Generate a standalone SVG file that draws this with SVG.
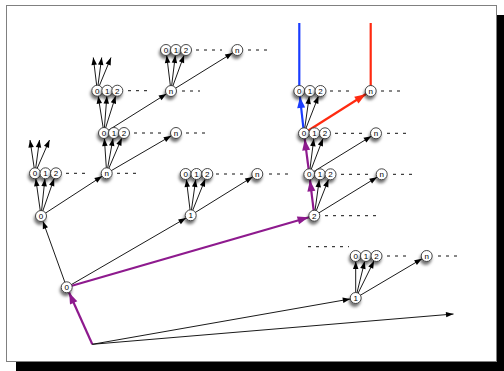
<svg xmlns="http://www.w3.org/2000/svg" width="504" height="371" viewBox="0 0 504 371">
  <defs>
    <style>
      .e { stroke: #000; stroke-width: 0.9; fill: none; }
      .ep { stroke: #8e1a8e; stroke-width: 2.2; fill: none; }
      .eb { stroke: #1a3cff; stroke-width: 2.2; fill: none; }
      .er { stroke: #ff2a10; stroke-width: 2.2; fill: none; }
      .dots { stroke: #111; stroke-width: 1; stroke-dasharray: 3 5; fill: none; }
      .node circle { fill: #fff; stroke: #333; stroke-width: 0.9; filter: url(#shadow); }
      .node text { font-family: "Liberation Sans", Arial, sans-serif; font-size: 8px; text-anchor: middle; fill: #000; }
    </style>
    <filter id="shadow" x="-80%" y="-80%" width="260%" height="260%">
      <feDropShadow dx="-1" dy="3" stdDeviation="1.6" flood-color="#000" flood-opacity="0.55"/>
    </filter>
    <!-- thin arrowhead ending at a node's rim -->
    <marker id="ah" markerUnits="userSpaceOnUse" markerWidth="20" markerHeight="8" refX="13" refY="2.75" orient="auto" overflow="visible">
      <path d="M0,0 L7.5,2.75 L0,5.5 z" fill="#000"/>
    </marker>
    <!-- thin arrowhead at a free end -->
    <marker id="ahf" markerUnits="userSpaceOnUse" markerWidth="10" markerHeight="8" refX="7.5" refY="2.75" orient="auto" overflow="visible">
      <path d="M0,0 L7.5,2.75 L0,5.5 z" fill="#000"/>
    </marker>
    <marker id="ahp" markerUnits="userSpaceOnUse" markerWidth="24" markerHeight="10" refX="17" refY="4" orient="auto" overflow="visible">
      <path d="M0,0 L11,4 L0,8 z" fill="#8e1a8e"/>
    </marker>
    <marker id="ahb" markerUnits="userSpaceOnUse" markerWidth="24" markerHeight="10" refX="17" refY="4" orient="auto" overflow="visible">
      <path d="M0,0 L11,4 L0,8 z" fill="#1a3cff"/>
    </marker>
    <marker id="ahr" markerUnits="userSpaceOnUse" markerWidth="24" markerHeight="10" refX="17" refY="4" orient="auto" overflow="visible">
      <path d="M0,0 L11,4 L0,8 z" fill="#ff2a10"/>
    </marker>
  </defs>

  <!-- page frame with hard drop shadow -->
  <rect x="16" y="15" width="490" height="357" fill="#000"/>
  <rect x="6.5" y="5.5" width="490" height="356" fill="#fff" stroke="#808080" stroke-width="1"/>

  <!-- ellipsis runs -->
  <g id="ellipses">
    <line class="dots" x1="66" y1="173.3" x2="90" y2="173.3"/>
    <line class="dots" x1="117" y1="173.3" x2="138" y2="173.3"/>
    <line class="dots" x1="134" y1="133" x2="162" y2="133"/>
    <line class="dots" x1="186" y1="133" x2="206" y2="133"/>
    <line class="dots" x1="128" y1="90.7" x2="150" y2="90.7"/>
    <line class="dots" x1="182" y1="91" x2="200" y2="91"/>
    <line class="dots" x1="196" y1="50" x2="222" y2="50"/>
    <line class="dots" x1="248" y1="50" x2="268" y2="50"/>
    <line class="dots" x1="216" y1="174" x2="246" y2="174"/>
    <line class="dots" x1="269" y1="174" x2="291" y2="174"/>
    <line class="dots" x1="325" y1="215.7" x2="381" y2="215.7"/>
    <line class="dots" x1="341" y1="174.3" x2="369" y2="174.3"/>
    <line class="dots" x1="393" y1="174.3" x2="412" y2="174.3"/>
    <line class="dots" x1="335" y1="133.3" x2="365" y2="133.3"/>
    <line class="dots" x1="387" y1="133.3" x2="407" y2="133.3"/>
    <line class="dots" x1="330" y1="91" x2="353" y2="91"/>
    <line class="dots" x1="381" y1="91" x2="401" y2="91"/>
    <line class="dots" x1="308" y1="246.7" x2="349" y2="246.7"/>
    <line class="dots" x1="387" y1="256" x2="409" y2="256"/>
    <line class="dots" x1="438" y1="256" x2="460" y2="256"/>
  </g>

  <!-- connectors -->
  <g id="connectors">
    <!-- from the origin point -->
    <line class="ep" x1="92.3" y1="344.3" x2="66.7" y2="287.3" marker-end="url(#ahp)"/>
    <line class="e" x1="92.3" y1="344.3" x2="355.7" y2="298" marker-end="url(#ah)"/>
    <line class="e" x1="92.3" y1="344.3" x2="453.5" y2="314" marker-end="url(#ahf)"/>
    <!-- from root 0 -->
    <line class="e" x1="66.7" y1="287.3" x2="41" y2="216" marker-end="url(#ah)"/>
    <line class="e" x1="66.7" y1="287.3" x2="190.7" y2="215.3" marker-end="url(#ah)"/>
    <line class="ep" x1="66.7" y1="287.3" x2="314.3" y2="215.7" marker-end="url(#ahp)"/>

    <!-- left subtree -->
    <line class="e" x1="41" y1="216" x2="35" y2="173.3" marker-end="url(#ah)"/>
    <line class="e" x1="41" y1="216" x2="45.5" y2="173.3" marker-end="url(#ah)"/>
    <line class="e" x1="41" y1="216" x2="56" y2="173.3" marker-end="url(#ah)"/>
    <line class="e" x1="41" y1="216" x2="106.7" y2="173.3" marker-end="url(#ah)"/>
    <line class="e" x1="35" y1="173.3" x2="30" y2="140" marker-end="url(#ahf)"/>
    <line class="e" x1="35" y1="173.3" x2="39.5" y2="140" marker-end="url(#ahf)"/>
    <line class="e" x1="35" y1="173.3" x2="49.5" y2="140" marker-end="url(#ahf)"/>

    <line class="e" x1="106.7" y1="173.3" x2="104" y2="133" marker-end="url(#ah)"/>
    <line class="e" x1="106.7" y1="173.3" x2="114" y2="133" marker-end="url(#ah)"/>
    <line class="e" x1="106.7" y1="173.3" x2="124" y2="133" marker-end="url(#ah)"/>
    <line class="e" x1="106.7" y1="173.3" x2="176" y2="133" marker-end="url(#ah)"/>

    <line class="e" x1="104" y1="133" x2="97.3" y2="90.7" marker-end="url(#ah)"/>
    <line class="e" x1="104" y1="133" x2="107.3" y2="90.7" marker-end="url(#ah)"/>
    <line class="e" x1="104" y1="133" x2="117.3" y2="90.7" marker-end="url(#ah)"/>
    <line class="e" x1="104" y1="133" x2="171" y2="91" marker-end="url(#ah)"/>
    <line class="e" x1="97.3" y1="90.7" x2="93.3" y2="57.5" marker-end="url(#ahf)"/>
    <line class="e" x1="97.3" y1="90.7" x2="101.7" y2="57.5" marker-end="url(#ahf)"/>
    <line class="e" x1="97.3" y1="90.7" x2="111" y2="57.5" marker-end="url(#ahf)"/>

    <line class="e" x1="171" y1="91" x2="166" y2="50" marker-end="url(#ah)"/>
    <line class="e" x1="171" y1="91" x2="176" y2="50" marker-end="url(#ah)"/>
    <line class="e" x1="171" y1="91" x2="186" y2="50" marker-end="url(#ah)"/>
    <line class="e" x1="171" y1="91" x2="237.3" y2="50" marker-end="url(#ah)"/>

    <!-- middle subtree -->
    <line class="e" x1="190.7" y1="215.3" x2="185.7" y2="174" marker-end="url(#ah)"/>
    <line class="e" x1="190.7" y1="215.3" x2="196.5" y2="174" marker-end="url(#ah)"/>
    <line class="e" x1="190.7" y1="215.3" x2="207.3" y2="174" marker-end="url(#ah)"/>
    <line class="e" x1="190.7" y1="215.3" x2="257.3" y2="174" marker-end="url(#ah)"/>

    <!-- right subtree -->
    <line class="ep" x1="314.3" y1="215.7" x2="309.3" y2="174.3" marker-end="url(#ahp)"/>
    <line class="e" x1="314.3" y1="215.7" x2="320" y2="174.3" marker-end="url(#ah)"/>
    <line class="e" x1="314.3" y1="215.7" x2="330.5" y2="174.3" marker-end="url(#ah)"/>
    <line class="e" x1="314.3" y1="215.7" x2="381.7" y2="174.3" marker-end="url(#ah)"/>

    <line class="ep" x1="309.3" y1="174.3" x2="304" y2="133.3" marker-end="url(#ahp)"/>
    <line class="e" x1="309.3" y1="174.3" x2="314.5" y2="133.3" marker-end="url(#ah)"/>
    <line class="e" x1="309.3" y1="174.3" x2="325" y2="133.3" marker-end="url(#ah)"/>
    <line class="e" x1="309.3" y1="174.3" x2="376" y2="133.3" marker-end="url(#ah)"/>

    <line class="eb" x1="304" y1="133.3" x2="299.3" y2="91" marker-end="url(#ahb)"/>
    <line class="e" x1="304" y1="133.3" x2="310" y2="91" marker-end="url(#ah)"/>
    <line class="e" x1="304" y1="133.3" x2="320.5" y2="91" marker-end="url(#ah)"/>
    <line class="er" x1="304" y1="133.3" x2="370.7" y2="91" marker-end="url(#ahr)"/>
    <line class="eb" x1="299.3" y1="91" x2="299.3" y2="23"/>
    <line class="er" x1="370.7" y1="91" x2="370.7" y2="23"/>

    <!-- bottom-right subtree -->
    <line class="e" x1="355.7" y1="298" x2="355.7" y2="256" marker-end="url(#ah)"/>
    <line class="e" x1="355.7" y1="298" x2="366" y2="256" marker-end="url(#ah)"/>
    <line class="e" x1="355.7" y1="298" x2="376.5" y2="256" marker-end="url(#ah)"/>
    <line class="e" x1="355.7" y1="298" x2="426.7" y2="256" marker-end="url(#ah)"/>
  </g>

  <!-- nodes -->
  <g id="root" class="node"><circle cx="66.7" cy="287.3" r="5.5"/><text x="66.7" y="290.2">0</text></g>

  <g id="a0" class="node"><circle cx="41" cy="216" r="5.5"/><text x="41" y="218.9">0</text></g>
  <g id="a0-0" class="node"><circle cx="35" cy="173.3" r="5.5"/><text x="35" y="176.2">0</text></g>
  <g id="a0-1" class="node"><circle cx="45.5" cy="173.3" r="5.5"/><text x="45.5" y="176.2">1</text></g>
  <g id="a0-2" class="node"><circle cx="56" cy="173.3" r="5.5"/><text x="56" y="176.2">2</text></g>
  <g id="a0-n" class="node"><circle cx="106.7" cy="173.3" r="5.5"/><text x="106.7" y="176.2">n</text></g>

  <g id="a1-0" class="node"><circle cx="104" cy="133" r="5.5"/><text x="104" y="135.9">0</text></g>
  <g id="a1-1" class="node"><circle cx="114" cy="133" r="5.5"/><text x="114" y="135.9">1</text></g>
  <g id="a1-2" class="node"><circle cx="124" cy="133" r="5.5"/><text x="124" y="135.9">2</text></g>
  <g id="a1-n" class="node"><circle cx="176" cy="133" r="5.5"/><text x="176" y="135.9">n</text></g>

  <g id="a2-0" class="node"><circle cx="97.3" cy="90.7" r="5.5"/><text x="97.3" y="93.6">0</text></g>
  <g id="a2-1" class="node"><circle cx="107.3" cy="90.7" r="5.5"/><text x="107.3" y="93.6">1</text></g>
  <g id="a2-2" class="node"><circle cx="117.3" cy="90.7" r="5.5"/><text x="117.3" y="93.6">2</text></g>
  <g id="a2-n" class="node"><circle cx="171" cy="91" r="5.5"/><text x="171" y="93.9">n</text></g>

  <g id="a3-0" class="node"><circle cx="166" cy="50" r="5.5"/><text x="166" y="52.9">0</text></g>
  <g id="a3-1" class="node"><circle cx="176" cy="50" r="5.5"/><text x="176" y="52.9">1</text></g>
  <g id="a3-2" class="node"><circle cx="186" cy="50" r="5.5"/><text x="186" y="52.9">2</text></g>
  <g id="a3-n" class="node"><circle cx="237.3" cy="50" r="5.5"/><text x="237.3" y="52.9">n</text></g>

  <g id="b1" class="node"><circle cx="190.7" cy="215.3" r="5.5"/><text x="190.7" y="218.2">1</text></g>
  <g id="b-0" class="node"><circle cx="185.7" cy="174" r="5.5"/><text x="185.7" y="176.9">0</text></g>
  <g id="b-1" class="node"><circle cx="196.5" cy="174" r="5.5"/><text x="196.5" y="176.9">1</text></g>
  <g id="b-2" class="node"><circle cx="207.3" cy="174" r="5.5"/><text x="207.3" y="176.9">2</text></g>
  <g id="b-n" class="node"><circle cx="257.3" cy="174" r="5.5"/><text x="257.3" y="176.9">n</text></g>

  <g id="c2" class="node"><circle cx="314.3" cy="215.7" r="5.5"/><text x="314.3" y="218.6">2</text></g>
  <g id="c1-0" class="node"><circle cx="309.3" cy="174.3" r="5.5"/><text x="309.3" y="177.2">0</text></g>
  <g id="c1-1" class="node"><circle cx="320" cy="174.3" r="5.5"/><text x="320" y="177.2">1</text></g>
  <g id="c1-2" class="node"><circle cx="330.5" cy="174.3" r="5.5"/><text x="330.5" y="177.2">2</text></g>
  <g id="c1-n" class="node"><circle cx="381.7" cy="174.3" r="5.5"/><text x="381.7" y="177.2">n</text></g>

  <g id="c2-0" class="node"><circle cx="304" cy="133.3" r="5.5"/><text x="304" y="136.2">0</text></g>
  <g id="c2-1" class="node"><circle cx="314.5" cy="133.3" r="5.5"/><text x="314.5" y="136.2">1</text></g>
  <g id="c2-2" class="node"><circle cx="325" cy="133.3" r="5.5"/><text x="325" y="136.2">2</text></g>
  <g id="c2-n" class="node"><circle cx="376" cy="133.3" r="5.5"/><text x="376" y="136.2">n</text></g>

  <g id="c3-0" class="node"><circle cx="299.3" cy="91" r="5.5"/><text x="299.3" y="93.9">0</text></g>
  <g id="c3-1" class="node"><circle cx="310" cy="91" r="5.5"/><text x="310" y="93.9">1</text></g>
  <g id="c3-2" class="node"><circle cx="320.5" cy="91" r="5.5"/><text x="320.5" y="93.9">2</text></g>
  <g id="c3-n" class="node"><circle cx="370.7" cy="91" r="5.5"/><text x="370.7" y="93.9">n</text></g>

  <g id="d1" class="node"><circle cx="355.7" cy="298" r="5.5"/><text x="355.7" y="300.9">1</text></g>
  <g id="d-0" class="node"><circle cx="355.7" cy="256" r="5.5"/><text x="355.7" y="258.9">0</text></g>
  <g id="d-1" class="node"><circle cx="366" cy="256" r="5.5"/><text x="366" y="258.9">1</text></g>
  <g id="d-2" class="node"><circle cx="376.5" cy="256" r="5.5"/><text x="376.5" y="258.9">2</text></g>
  <g id="d-n" class="node"><circle cx="426.7" cy="256" r="5.5"/><text x="426.7" y="258.9">n</text></g>
</svg>
